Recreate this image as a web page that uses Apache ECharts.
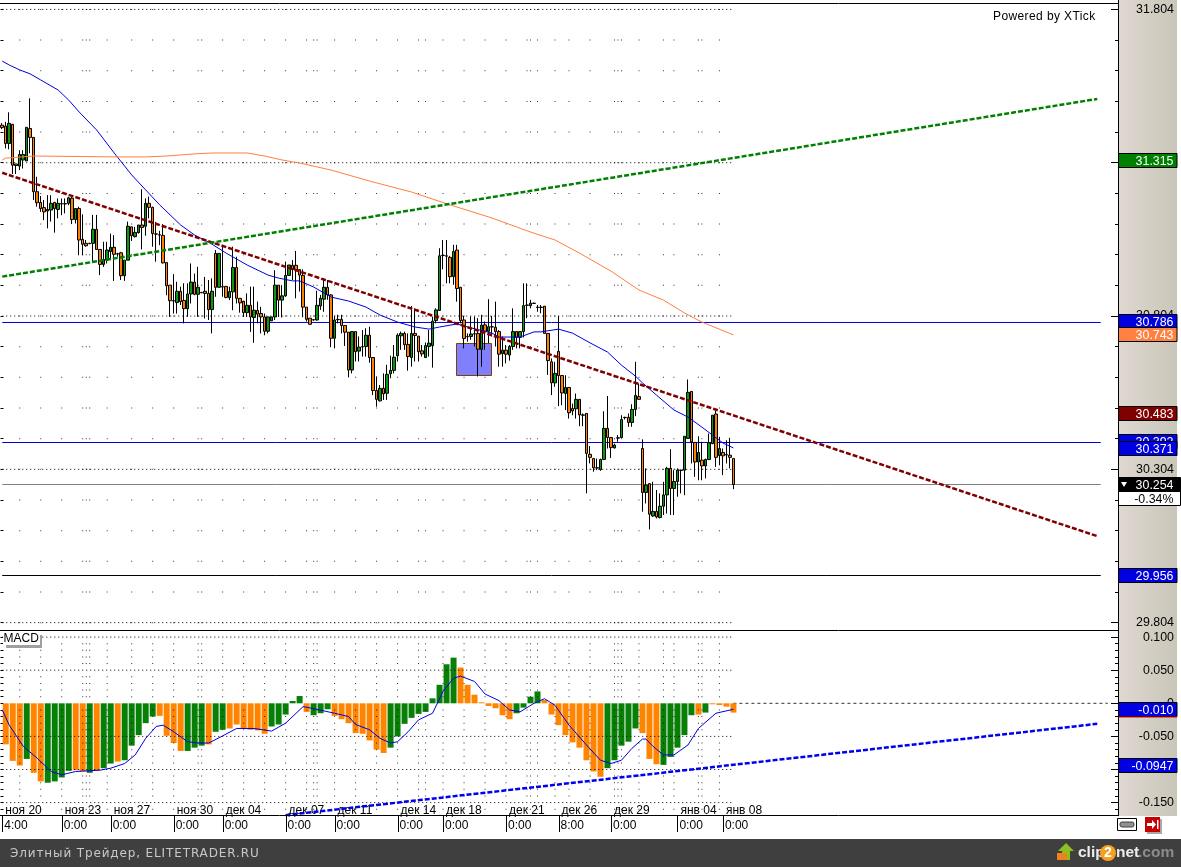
<!DOCTYPE html>
<html><head><meta charset="utf-8">
<style>html,body{margin:0;padding:0;background:#fff}#c{width:1181px;height:867px}
#wrap{position:relative;width:1181px;height:867px;overflow:hidden}
.t{position:absolute;white-space:nowrap;line-height:14px}
#pw{left:993px;top:9px;font:12px/14px 'Liberation Sans',Arial,sans-serif;letter-spacing:.4px;color:#000}
#ft{left:10px;top:846px;font:12px/14px 'DejaVu Sans',sans-serif;letter-spacing:.87px;color:#c8c8c8}
</style>
<script src="https://cdn.jsdelivr.net/npm/echarts@6/dist/echarts.min.js"></script>
</head><body><div id="wrap"><div id="c"></div>
<div class="t" id="pw">Powered by XTick</div>
<div class="t" id="ft">Элитный Трейдер, ELITETRADER.RU</div></div>
<script>
// candle direction: G = close above open, O = close below open
const candleDirs = ["OOGOOGGGOO","OOOGGOGOOG","OGOOOOGOOG","GGOOOGGOGG","OGOOOOOOOO","GOOGGOGOOO","GOGOOGGOOO","GOGOOOGGGO","GGGOOOOOOO","GGGOOGOOOO",
"GOGOGOOOGO","GGGGGOOGOO","OGGGGGOOOG","OOOOGOOGOG","OOOGOGGOGG","OGOOOOOOGO","OGOOGOOOOO","OGGOOGOGOO","GGOOGOGOGG","GOGGOGGOOG","OGGGOGOOOO"].join("");
const bodyHigh = [31.433,31.430,31.439,31.436,31.306,31.337,31.337,31.426,31.422,31.393,
31.215,31.180,31.163,31.157,31.177,31.180,31.177,31.176,31.176,31.195,
31.194,31.160,31.160,31.059,31.046,31.046,31.092,31.092,31.026,30.993,
31.024,31.033,31.033,31.012,31.015,30.991,31.102,31.100,31.082,31.106,
31.106,31.177,31.177,31.164,31.077,31.074,31.072,30.983,30.909,30.858,
30.889,30.889,30.859,30.880,30.919,30.919,30.902,30.885,30.889,30.882,
30.889,31.013,31.013,30.904,30.905,30.888,30.967,30.967,30.866,30.856,
30.843,30.843,30.827,30.826,30.816,30.805,30.805,30.805,30.909,30.909,
30.874,30.941,30.975,30.974,30.974,30.960,30.941,30.837,30.801,30.796,
30.843,30.866,30.902,30.902,30.877,30.795,30.797,30.797,30.777,30.755,
30.757,30.757,30.706,30.708,30.745,30.745,30.672,30.564,30.571,30.571,
30.617,30.630,30.673,30.745,30.751,30.751,30.715,30.751,30.751,30.742,
30.694,30.711,30.719,30.791,30.828,31.005,31.007,31.005,31.000,31.019,
31.024,30.902,30.795,30.741,30.749,30.750,30.751,30.778,30.779,30.773,
30.773,30.771,30.757,30.696,30.696,30.708,30.757,30.757,30.757,30.842,
30.844,30.850,30.850,30.837,30.837,30.840,30.751,30.658,30.620,30.692,
30.613,30.574,30.574,30.505,30.535,30.535,30.484,30.489,30.355,30.341,
30.311,30.338,30.440,30.440,30.410,30.385,30.409,30.469,30.476,30.476,
30.502,30.548,30.544,30.374,30.254,30.259,30.168,30.168,30.185,30.222,
30.309,30.309,30.266,30.303,30.303,30.414,30.558,30.561,30.394,30.361,
30.336,30.338,30.393,30.483,30.487,30.374,30.361,30.354,30.352,30.341];
const bodyLow = [31.425,31.373,31.373,31.302,31.301,31.299,31.319,31.316,31.393,31.215,
31.179,31.160,31.149,31.152,31.155,31.160,31.157,31.175,31.175,31.177,
31.124,31.124,31.057,31.043,31.038,31.045,31.046,31.026,30.977,30.977,
30.991,31.019,31.010,31.011,30.940,30.940,30.991,31.071,31.068,31.081,
31.098,31.102,31.164,31.078,31.076,31.073,30.982,30.907,30.858,30.857,
30.852,30.855,30.832,30.832,30.880,30.879,30.879,30.884,30.882,30.829,
30.829,30.902,30.902,30.903,30.869,30.868,30.887,30.866,30.851,30.819,
30.819,30.805,30.803,30.814,30.805,30.758,30.758,30.792,30.805,30.860,
30.860,30.874,30.941,30.960,30.960,30.942,30.837,30.797,30.781,30.795,
30.795,30.841,30.863,30.877,30.735,30.735,30.796,30.777,30.755,30.631,
30.631,30.691,30.693,30.707,30.708,30.672,30.564,30.535,30.530,30.553,
30.555,30.619,30.630,30.678,30.743,30.714,30.675,30.672,30.744,30.691,
30.684,30.672,30.708,30.711,30.793,30.826,31.006,31.004,30.937,30.937,
30.898,30.793,30.734,30.740,30.741,30.749,30.699,30.699,30.758,30.758,
30.772,30.757,30.683,30.685,30.683,30.680,30.708,30.738,30.738,30.757,
30.843,30.842,30.849,30.836,30.836,30.751,30.662,30.589,30.589,30.613,
30.556,30.554,30.491,30.497,30.504,30.484,30.483,30.358,30.345,30.311,
30.310,30.305,30.338,30.410,30.377,30.376,30.408,30.410,30.475,30.459,
30.459,30.502,30.535,30.230,30.230,30.159,30.153,30.150,30.148,30.185,
30.222,30.243,30.243,30.266,30.302,30.303,30.407,30.396,30.330,30.330,
30.317,30.317,30.338,30.390,30.345,30.351,30.350,30.353,30.345,30.256];
const wickHigh = [31.440,31.444,31.475,31.436,31.306,31.351,31.351,31.426,31.521,31.393,
31.264,31.201,31.188,31.204,31.204,31.182,31.193,31.193,31.193,31.199,
31.199,31.160,31.166,31.141,31.057,31.048,31.139,31.139,31.026,31.051,
31.051,31.078,31.073,31.015,31.018,30.991,31.117,31.100,31.100,31.106,
31.223,31.193,31.199,31.166,31.116,31.087,31.109,30.983,30.909,30.945,
30.920,30.904,30.915,30.915,30.980,30.947,30.969,30.887,30.936,30.926,
30.931,31.024,31.013,31.035,30.905,30.904,31.035,31.002,30.866,30.858,
30.882,30.904,30.904,30.855,30.838,30.816,30.805,30.805,30.958,30.909,
30.909,30.986,30.975,30.991,31.021,30.960,30.961,30.837,30.801,30.797,
30.891,30.877,30.932,30.926,30.880,30.806,30.812,30.812,30.777,30.755,
30.757,30.757,30.741,30.762,30.768,30.773,30.672,30.610,30.582,30.620,
30.648,30.678,30.713,30.751,30.757,30.757,30.751,30.841,30.833,30.742,
30.713,30.721,30.762,30.806,30.833,31.030,31.057,31.057,31.005,31.041,
31.041,30.902,30.808,30.751,30.806,30.806,30.801,30.812,30.790,30.863,
30.808,30.855,30.762,30.741,30.713,30.713,30.833,30.757,30.757,30.915,
30.915,30.861,30.852,30.844,30.844,30.840,30.751,30.669,30.658,30.808,
30.613,30.614,30.574,30.521,30.554,30.535,30.489,30.489,30.382,30.341,
30.341,30.341,30.496,30.546,30.410,30.390,30.418,30.483,30.478,30.489,
30.519,30.658,30.587,30.404,30.309,30.259,30.265,30.238,30.227,30.265,
30.314,30.372,30.303,30.309,30.305,30.414,30.600,30.561,30.394,30.414,
30.396,30.341,30.423,30.483,30.497,30.412,30.374,30.401,30.409,30.341];
const wickLow = [31.420,31.357,31.354,31.273,31.273,31.286,31.291,31.316,31.341,31.188,
31.166,31.149,31.122,31.095,31.117,31.081,31.128,31.138,31.144,31.171,
31.109,31.111,31.007,31.007,31.035,31.043,30.982,31.024,30.942,30.969,
30.980,30.991,30.923,31.002,30.926,30.923,30.991,31.054,31.065,31.078,
31.026,31.071,31.128,31.035,30.986,31.040,30.980,30.876,30.805,30.816,
30.816,30.844,30.784,30.805,30.849,30.876,30.805,30.883,30.800,30.795,
30.751,30.871,30.902,30.871,30.866,30.860,30.827,30.849,30.819,30.805,
30.805,30.756,30.720,30.784,30.751,30.745,30.751,30.792,30.795,30.805,
30.803,30.871,30.941,30.926,30.866,30.888,30.804,30.790,30.779,30.793,
30.793,30.828,30.822,30.861,30.706,30.702,30.784,30.751,30.710,30.607,
30.620,30.659,30.659,30.675,30.675,30.655,30.549,30.511,30.528,30.533,
30.533,30.604,30.620,30.659,30.697,30.697,30.629,30.642,30.659,30.659,
30.675,30.670,30.675,30.639,30.784,30.826,30.961,30.915,30.915,30.910,
30.855,30.784,30.702,30.724,30.730,30.708,30.610,30.642,30.697,30.719,
30.741,30.708,30.642,30.642,30.653,30.662,30.697,30.702,30.702,30.738,
30.801,30.833,30.848,30.822,30.817,30.751,30.615,30.549,30.576,30.513,
30.516,30.500,30.472,30.483,30.472,30.447,30.447,30.227,30.325,30.298,
30.303,30.301,30.336,30.374,30.343,30.374,30.396,30.410,30.469,30.445,
30.445,30.480,30.535,30.167,30.194,30.109,30.150,30.145,30.145,30.156,
30.161,30.156,30.156,30.216,30.227,30.221,30.407,30.325,30.281,30.270,
30.270,30.276,30.336,30.388,30.314,30.319,30.287,30.325,30.309,30.241];

const maBlueIdx = [0,2,5,8,11,16,19,22,27,32,37,41,45,51,55,59,64,70,76,79,83,85,89,94,99,104,108,113,118,122,125,130,134,140,142,148,152,154,159,163,168,173,177,181,183,187,192,196,200,203,206,209];
const maBlueVal = [31.643,31.630,31.614,31.601,31.581,31.548,31.515,31.476,31.417,31.342,31.270,31.221,31.172,31.106,31.073,31.050,31.014,30.975,30.942,30.932,30.923,30.923,30.903,30.870,30.857,30.837,30.811,30.788,30.772,30.765,30.772,30.782,30.769,30.752,30.739,30.739,30.756,30.756,30.765,30.752,30.720,30.690,30.647,30.611,30.589,30.549,30.500,30.477,30.444,30.418,30.392,30.376];
const maOrangeIdx = [0,1,9,33,41,47,55,60,70,75,80,85,94,105,117,128,140,151,158,165,174,182,189,195,200,209];
const maOrangeVal = [31.319,31.325,31.332,31.329,31.329,31.332,31.339,31.342,31.342,31.332,31.319,31.309,31.286,31.250,31.214,31.172,31.129,31.083,31.057,31.014,30.955,30.893,30.860,30.818,30.788,30.746];

// MACD histogram, one bar on every second candle
const macdDirs = ["OOOGOOGGGG","OOGOGGOGGG","GGOOOOGGGO","GGOOOOOOGG","GGGOGGGOOO","OOOOOGGGGG","GGGGGOOOOO","OOOGGGGOOO","OOOOOOGGGG","GOOOGGGGGO","GOOOO"].join("");
const macdValues = [-.062,-.087,-.094,-.084,-.105,-.118,-.120,-.118,-.112,-.102,
-.101,-.103,-.105,-.101,-.098,-.091,-.088,-.086,-.064,-.048,
-.030,-.020,-.019,-.049,-.060,-.072,-.072,-.067,-.064,-.062,
-.043,-.040,-.038,-.032,-.038,-.040,-.041,-.046,-.035,-.032,
-.017,.0035,.011,-.013,-.018,-.015,-.009,-.019,-.024,-.030,
-.045,-.046,-.056,-.070,-.075,-.067,-.050,-.031,-.022,-.016,
-.013,.0075,.028,.059,.069,.054,.028,.013,.0015,-.004,
-.0075,-.018,-.024,-.015,-.0065,.010,.018,.005,-.017,-.033,
-.048,-.059,-.067,-.086,-.103,-.111,-.098,-.086,-.064,-.058,
-.038,-.045,-.084,-.092,-.093,-.081,-.067,-.048,-.018,-.017,
-.014,-.0015,-.0025,-.005,-.014];
const signalIdx = [0,2,6,10,14,17,21,28,31,35,38,41,44,46,49,53,56,59,62,67,72,77,81,86,89,95,99,101,105,108,111,113,116,119,123,126,129,131,135,138,142,145,148,152,155,158,162,167,171,174,177,180,183,184,186,189,192,196,199,204,209];
const signalVal = [-.010,-.033,-.065,-.083,-.103,-.108,-.103,-.101,-.098,-.091,-.078,-.053,-.035,-.033,-.043,-.058,-.060,-.060,-.052,-.038,-.038,-.042,-.030,-.005,-.008,-.015,-.020,-.032,-.040,-.053,-.060,-.058,-.043,-.025,-.015,.018,.038,.041,.033,.014,.004,-.010,-.013,0,.007,-.003,-.033,-.063,-.086,-.091,-.086,-.068,-.054,-.054,-.065,-.078,-.078,-.063,-.038,-.015,-.009];

const redTrendIdx = [0,313], redTrendVal = [31.277,30.087];
const greenTrendIdx = [0,313], greenTrendVal = [30.937,31.519];
const macdTrendIdx = [81,313], macdTrendVal = [-.169,-.031];
const blueLevels = [30.7829,30.3915], greyLevel = 30.2545, blackLevel = 29.9577;
const boxRange = [130,140,30.714,30.611];

const tickIdx = [0,17,31,49,63,81,95,113,126,144,159,174,193,206];
const dateLabels = ["ноя 20","ноя 23","ноя 27","ноя 30","дек 04","дек 07","дек 11","дек 14","дек 18","дек 21","дек 26","дек 29","янв 04","янв 08"];
const timeLabels = ["4:00","0:00","0:00","0:00","0:00","0:00","0:00","0:00","0:00","0:00","8:00","0:00","0:00","0:00"];
const gridColumns = [5,11,17,23,24,25,30,37,43,49,56,57,63,69,75,81,87,89,90,95,101,107,113,119,121,126,132,138,144,150,151,153,158,162,168,175,176,177,182,189,192,199,200,205];
const mainMajor = [31.804,31.304,30.804,30.304,29.804];
const mainMinor = [31.704,31.604,31.504,31.404,31.204,31.104,31.004,30.904,30.704,30.604,30.504,30.404,30.204,30.104,30.004,29.904];
const macdMajor = [.1,.05,0,-.05,-.1,-.15];
const macdMajorDotted = [.1,.05,-.05,-.1,-.15];
const macdMinor = [.11,.09,.08,.07,.06,.04,.03,.02,.01,-.01,-.02,-.03,-.04,-.06,-.07,-.08,-.09,-.11,-.12,-.13,-.14,-.16];
const mainBadges = [[31.31,"31.315","#008000","#fff"],[30.786,"30.786","#0000e0","#fff"],[30.743,"30.743","#ff8040","#fff"],[30.483,"30.483","#800000","#fff"],[30.392,"30.392","#0000e0","#fff"],[30.371,"30.371","#0000e0","#fff"],[30.254,"30.254","#000","#fff"],[30.208,"-0.34%","#fff","#000"],[29.956,"29.956","#0000e0","#fff"]];
const macdBadges = [[-.010,"-0.010","#0000e0","#fff"],[-.0947,"-0.0947","#0000e0","#fff"]];

const N = 319;
const GREEN="#0a9a12", ORANGE="#ff8000";
// first readings were taken on a slightly coarser price scale; this maps them to the axis as measured from its ticks
const fix = v => +(31.8347-(31.843-v)*0.99576).toFixed(4);
const candles = bodyHigh.map((t,i)=> (candleDirs[i]==="G" ? [bodyLow[i],t,wickLow[i],wickHigh[i]] : [t,bodyLow[i],wickLow[i],wickHigh[i]]).map(fix));
const timeCats = Array(N).fill(""), dateCats = Array(N).fill("");
tickIdx.forEach((t,i)=>{timeCats[t]=timeLabels[i];dateCats[t]=dateLabels[i];});
const mainCats = Array.from({length:N},(_,i)=>String(i));
const zip=(a,b)=>a.map((x,i)=>[x,b[i]]);
const zipFix=(a,b)=>a.map((x,i)=>[x,fix(b[i])]);
const FONT="'Liberation Sans',Arial,sans-serif";

function hline(name,data,color,width,type,xA,yA,z){
  return {type:"line",name,data,xAxisIndex:xA,yAxisIndex:yA,showSymbol:false,symbol:"none",silent:true,animation:false,z:z||4,
    lineStyle:{color,width,type:type||"solid"},connectNulls:true};
}
function dots(rows,xA,yA,z){
  const d=[];rows.forEach(r=>gridColumns.forEach(c=>d.push([c,r])));
  return {type:"scatter",data:d,xAxisIndex:xA,yAxisIndex:yA,symbol:"rect",symbolSize:1,silent:true,animation:false,z:z||1,itemStyle:{color:"#000"}};
}
function badgeSeries(list,xA,yA){
  return {type:"custom",xAxisIndex:xA,yAxisIndex:yA,silent:true,animation:false,z:20,clip:false,
    data:list.map((b,i)=>[0,b[0],i]),encode:{x:0,y:1},
    renderItem:(p,api)=>{
      const y=Math.round(api.coord([0,api.value(1)])[1]);const b=list[api.value(2)];
      const wide=b[1]==="30.254"||b[1]==="-0.34%";const x0=1118.5,w=wide?62:58.5;
      const kids=[{type:"rect",shape:{x:x0,y:y-7.5,width:w,height:14},style:{fill:b[2],stroke:"#000",lineWidth:1}},
        {type:"text",style:{text:b[1],x:1173.5,y:y+.5,align:"right",verticalAlign:"middle",fill:b[3],font:"12.4px "+FONT}}];
      if(b[1]==="30.254")kids.push({type:"polygon",shape:{points:[[1121,y-3],[1127,y-3],[1124,y+2]]},style:{fill:"#fff"}});
      if(b[1]==="-0.010")kids.push({type:"rect",shape:{x:x0,y:y+6.5,width:w,height:1},style:{fill:"#e00000"}});
      return {type:"group",children:kids};
    }};
}
const series=[
  {type:"custom",xAxisIndex:0,yAxisIndex:0,silent:true,animation:false,z:2,data:[boxRange],encode:{x:[0,1],y:[2,3]},
    renderItem:(p,api)=>{const a=api.coord([api.value(0),api.value(2)]),b=api.coord([api.value(1),api.value(3)]);
      return {type:"rect",shape:{x:Math.round(a[0])-.5,y:Math.round(a[1])-.5,width:Math.round(b[0]-a[0]),height:Math.round(b[1]-a[1])},style:{fill:"#8080ff",stroke:"#804000",lineWidth:1}};}},
  dots(mainMinor.concat(mainMajor),0,0),
  ...mainMajor.map(v=>hline("m",[[0,v],[209,v]],"#000",1,[1,3],0,0,1)),
  hline("l",[[0,blueLevels[0]],[314,blueLevels[0]]],"#0000e0",1,"solid",0,0,3),
  hline("l",[[0,blueLevels[1]],[314,blueLevels[1]]],"#0000e0",1,"solid",0,0,3),
  hline("l",[[0,greyLevel],[314,greyLevel]],"#808080",1,"solid",0,0,3),
  hline("l",[[0,blackLevel],[314,blackLevel]],"#000",1,"solid",0,0,3),
  {type:"candlestick",data:candles,xAxisIndex:0,yAxisIndex:0,barWidth:3,silent:true,animation:false,z:5,
    itemStyle:{color:GREEN,color0:ORANGE,borderColor:"#000",borderColor0:"#000",borderWidth:1}},
  hline("ma",zipFix(maBlueIdx,maBlueVal),"#0000e0",1,"solid",0,0,6),
  hline("ma",zipFix(maOrangeIdx,maOrangeVal),"#ff8040",1,"solid",0,0,6),
  hline("t",zipFix(redTrendIdx,redTrendVal),"#800000",2.5,[5,2],0,0,7),
  hline("t",zipFix(greenTrendIdx,greenTrendVal),"#008000",2.5,[5,2],0,0,7),
  badgeSeries(mainBadges,0,0),
  hline("z",[[209,0],[316,0]],"#333",1,[3,3],1,3,1),
  {type:"bar",xAxisIndex:1,yAxisIndex:3,barWidth:6,silent:true,animation:false,z:2,
    data:macdValues.map((v,k)=>({value:[2*k+1,v],itemStyle:{color:macdDirs[k]==="G"?"#088008":"#ff8400"}}))},
  dots(macdMinor,1,3,3),
  ...macdMajorDotted.map(v=>hline("m",[[0,v],[209,v]],"#000",1,[1,3],1,3,3)),
  hline("s",zip(signalIdx,signalVal),"#0000e0",1,"solid",1,3,6),
  hline("t",zip(macdTrendIdx,macdTrendVal),"#0000f0",2.5,[5,2],1,3,7),
  {type:"custom",xAxisIndex:1,yAxisIndex:3,silent:true,animation:false,z:9,clip:false,data:tickIdx.map(t=>[t,-.1698]),encode:{x:0,y:1},
    renderItem:(p,api)=>{const c=api.coord([api.value(0),api.value(1)]);const x=Math.round(c[0])+.5;
      return {type:"line",shape:{x1:x,y1:816,x2:x,y2:832},style:{stroke:"#000",lineWidth:1}};}},
  badgeSeries(macdBadges,1,3)
];
const mainY={min:29.780,max:31.8347},macdY={min:-.1698,max:.11};
const rightAxis=(grid,ext,major,labels)=>({type:"value",gridIndex:grid,position:"right",offset:1.5,...ext,scale:true,splitLine:{show:false},
  axisLine:{show:true,onZero:false,lineStyle:{color:"#000",width:1}},
  axisTick:{show:true,inside:true,length:7,customValues:major,lineStyle:{color:"#000"}},
  axisLabel:{show:true,customValues:labels,margin:56,align:"right",padding:[5,0,0,0],color:"#000",fontFamily:FONT,fontSize:12.4,formatter:v=>v===0?"0":v.toFixed(3)}});
const extraAxis=(grid,ext,pos,len,vals)=>({type:"value",gridIndex:grid,position:pos,offset:pos==="right"?1.5:0,...ext,scale:true,splitLine:{show:false},
  axisLine:{show:false},axisLabel:{show:false},axisTick:{show:true,inside:true,length:len,customValues:vals,lineStyle:{color:"#000"}}});
const grayGrad={type:"linear",x:0,y:0,x2:1,y2:0,colorStops:[{offset:0,color:"#e0d8d2"},{offset:1,color:"#c9c6b8"}]};
const option={
  animation:false,backgroundColor:"#fff",
  grid:[{left:.5,top:0,width:1116,height:630},{left:.5,top:630.5,width:1116,height:185.2}],
  xAxis:[
    {type:"category",gridIndex:0,data:mainCats,show:false},
    {type:"category",gridIndex:1,data:timeCats,position:"bottom",axisLine:{show:false,onZero:false},axisTick:{show:false},
      axisLabel:{interval:0,align:"left",margin:4,padding:[0,0,0,2],color:"#000",fontFamily:FONT,fontSize:12}},
    {type:"category",gridIndex:1,data:dateCats,position:"bottom",axisLine:{show:false,onZero:false},axisTick:{show:false},
      axisLabel:{inside:true,interval:0,align:"left",margin:-1,padding:[0,0,0,3],color:"#000",fontFamily:FONT,fontSize:12}}
  ],
  yAxis:[
    rightAxis(0,mainY,mainMajor,mainMajor),
    extraAxis(0,mainY,"right",3,mainMinor),
    extraAxis(0,mainY,"left",3,mainMajor.concat(mainMinor)),
    rightAxis(1,macdY,macdMajor,macdMajor),
    extraAxis(1,macdY,"right",3,macdMinor),
    extraAxis(1,macdY,"left",3,macdMajor.concat(macdMinor))
  ],
  series,
  graphic:[
    {type:"rect",z:-1,shape:{x:1118,y:0,width:59,height:816},style:{fill:grayGrad}},
    {type:"line",z:30,shape:{x1:0,y1:3.5,x2:1118,y2:3.5},style:{stroke:"#000",lineWidth:1}},
    {type:"line",z:30,shape:{x1:0,y1:630.5,x2:1118,y2:630.5},style:{stroke:"#000",lineWidth:1}},
    {type:"line",z:30,shape:{x1:0,y1:815.5,x2:1118,y2:815.5},style:{stroke:"#000",lineWidth:1}},
    {type:"rect",z:30,shape:{x:6,y:635,width:36,height:13},style:{fill:"#a0a0a0"}},
    {type:"rect",z:31,shape:{x:3,y:632,width:37,height:13},style:{fill:"#fff"}},
    {type:"text",z:32,style:{text:"MACD",x:3.5,y:638.5,verticalAlign:"middle",fill:"#000",font:"12px "+FONT}},
    {type:"rect",z:30,shape:{x:1117.5,y:818.5,width:19,height:12},style:{fill:"#fff",stroke:"#000",lineWidth:1}},
    {type:"rect",z:31,shape:{x:1120,y:822,width:14,height:5,r:2},style:{fill:"#909090",stroke:"#404040",lineWidth:1}},
    {type:"rect",z:30,shape:{x:1147,y:819,width:15,height:15},style:{fill:"#a8a8a8"}},
    {type:"rect",z:31,shape:{x:1145,y:817,width:15,height:15},style:{fill:"#c80000"}},
    {type:"polygon",z:32,shape:{points:[[1147,823],[1152,823],[1152,820],[1156,824.5],[1152,829],[1152,826],[1147,826]]},style:{fill:"#fff"}},
    {type:"rect",z:32,shape:{x:1157,y:820,width:1.5,height:9},style:{fill:"#fff"}},
    {type:"rect",z:40,shape:{x:0,y:839,width:1181,height:28},style:{fill:"#3f3f3f"}},
    {type:"polygon",z:41,shape:{points:[[1066,843],[1074,851],[1070,851],[1070,860],[1062,860],[1062,851],[1058,851]]},style:{fill:"#8cc020"}},
    {type:"rect",z:42,shape:{x:1057,y:853,width:10,height:7},style:{fill:"#f08020"}},
    {type:"text",z:41,style:{text:"clip",x:1078,y:853,verticalAlign:"middle",fill:"#ececec",font:"bold 15.5px "+FONT}},
    {type:"circle",z:41,shape:{cx:1108,cy:853,r:8},style:{fill:"#f5a020"}},
    {type:"text",z:42,style:{text:"2",x:1108,y:853,align:"center",verticalAlign:"middle",fill:"#fff",font:"bold 14px "+FONT}},
    {type:"text",z:41,style:{text:"net",x:1116,y:853,verticalAlign:"middle",fill:"#ececec",font:"bold 15.5px "+FONT}},
    {type:"text",z:41,style:{text:".com",x:1138,y:853,verticalAlign:"middle",fill:"#8c8c8c",font:"bold 15.5px "+FONT}}
  ]
};
echarts.init(document.getElementById("c"),null,{renderer:"canvas"}).setOption(option);
</script></body></html>
